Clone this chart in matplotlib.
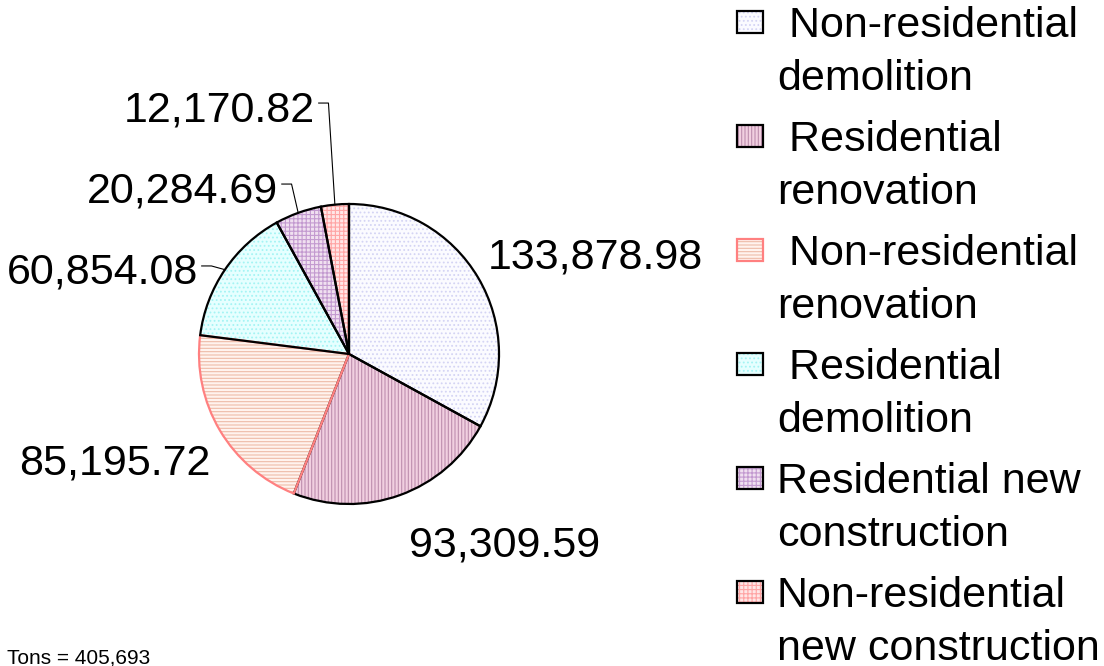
import numpy as np
import matplotlib; matplotlib.use("Agg")
import matplotlib.pyplot as plt
from matplotlib.patches import Rectangle

plt.rcParams['font.family'] = ['Liberation Sans', 'DejaVu Sans']
plt.rcParams['hatch.linewidth'] = 0.8

# data
CATEGORIES = [" Non-residential\ndemolition", " Residential\nrenovation", " Non-residential\nrenovation",
              " Residential\ndemolition", "Residential new\nconstruction", "Non-residential\nnew construction"]
VALUES = [133878.98, 93309.59, 85195.72, 60854.08, 20284.69, 12170.82]
VALUE_LABELS = ["133,878.98", "93,309.59", "85,195.72", "60,854.08", "20,284.69", "12,170.82"]
TOTAL_NOTE = "Tons = 405,693"

# styles
FACE = ["#FBFBFF", "#F1CFE0", "#FFF3EE", "#E6FFFF", "#F0E0F0", "#FFE6E6"]
HATCH = ["....", "|||||", "-----", "....", "++++", "++++"]
HATCH_C = ["#D4D4F4", "#BE8EAE", "#EEBCA8", "#A4F4F4", "#C39AD0", "#FFA4A4"]
EDGE = ["black", "black", "#FF8080", "black", "black", "black"]
# label anchors (data units, radius 1 = pie), ha, leader?
LABEL_POS = [(1.64, 0.573, "center", False), (1.04, -1.347, "center", False), (-1.56, -0.80, "center", False),
             (-1.007, 0.467, "right", True), (-0.473, 1.013, "right", True), (-0.227, 1.553, "right", True)]
FS = 31

W, H = 1104, 666
fig = plt.figure(figsize=(W/100, H/100), dpi=100)
ax = fig.add_axes([0, 0, 1, 1])
cx, cy, R = 349, 354, 150

wedges, _ = ax.pie(VALUES, startangle=90, counterclock=False, colors=FACE, radius=1,
                   wedgeprops=dict(linewidth=0))
for w, h, hc in zip(wedges, HATCH, HATCH_C):
    w.set_hatch(h); w.set_edgecolor(hc); w.set_linewidth(0)
outl, _ = ax.pie(VALUES, startangle=90, counterclock=False, radius=1,
                 wedgeprops=dict(fill=False, linewidth=1.6))
for w, ec in zip(outl, EDGE):
    w.set_edgecolor(ec)

for w, txt, (x, y, ha, lead) in zip(wedges, VALUE_LABELS, LABEL_POS):
    ax.text(x, y, txt, ha=ha, va="baseline", fontsize=FS, color="black")
    if lead:
        mid = np.deg2rad((w.theta1 + w.theta2) / 2)
        ex, ey = np.cos(mid), np.sin(mid)
        x0, y0 = x + 0.025, y + 0.12
        ax.plot([x0, x0 + 0.065, ex], [y0, y0, ey], color="black", lw=0.8)

ax.set_xlim(-cx / R, (W - cx) / R)
ax.set_ylim(-(H - cy) / R, cy / R)
ax.set_aspect("auto")
ax.axis("off")

# legend drawn by hand so the box sits beside the first line
for i, (lab, fc, h, hc, ec) in enumerate(zip(CATEGORIES, FACE, HATCH, HATCH_C, EDGE)):
    top = 11 + 114 * i
    fig.add_artist(Rectangle((737 / W, 1 - (top + 22) / H), 26 / W, 22 / H, transform=fig.transFigure,
                             facecolor=fc, hatch=h, edgecolor=hc, linewidth=0))
    fig.add_artist(Rectangle((737 / W, 1 - (top + 22) / H), 26 / W, 22 / H, transform=fig.transFigure,
                             fill=False, edgecolor=ec, linewidth=1.6))
    for j, line in enumerate(lab.split("\n")):
        fig.text(777 / W, 1 - (37 + 114 * i + 53 * j) / H, line, ha="left", va="baseline", fontsize=FS)

fig.text(7 / W, 1 - 664 / H, TOTAL_NOTE, ha="left", va="baseline", fontsize=15)

fig.savefig("out.png", dpi=100)
